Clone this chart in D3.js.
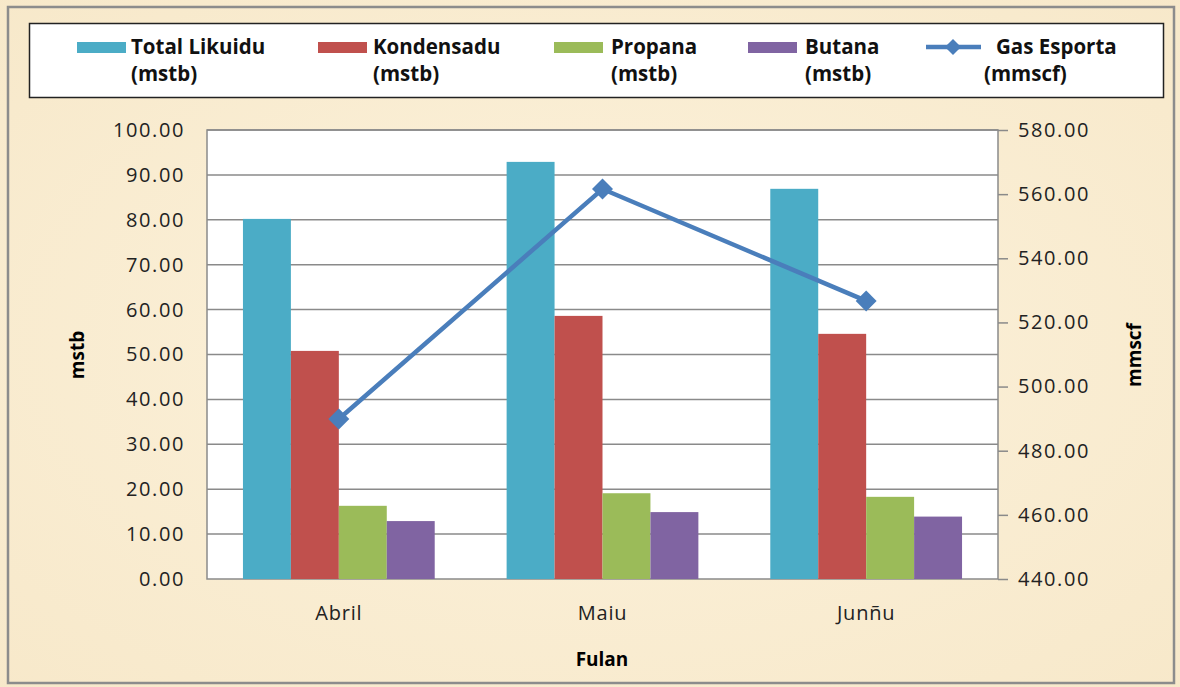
<!DOCTYPE html>
<html>
<head>
<meta charset="utf-8">
<script src="https://cdn.jsdelivr.net/npm/d3@7"></script>
<style>
  body { margin: 0; background: #f8ebd0; }
  svg { display: block; }
</style>
</head>
<body>
<svg id="canvas" width="1180" height="687"></svg>
<script>
'use strict';

// categories and series
var months = ['Abril', 'Maiu', 'Junñu'];
var seriesNames = ['Total Likuidu', 'Kondensadu', 'Propana', 'Butana'];
var totalLikuidu = [80.2, 92.9, 86.9];
var kondensadu = [50.8, 58.6, 54.6];
var propana = [16.3, 19.1, 18.3];
var butana = [12.9, 14.9, 13.9];
var gasEsporta = [489.9, 561.6, 526.7];
var leftTicks = [0, 10, 20, 30, 40, 50, 60, 70, 80, 90, 100];
var rightTicks = [440, 460, 480, 500, 520, 540, 560, 580];

var colors = ['#4bacc6', '#c0504d', '#9bbb59', '#8064a2'];
var lineColor = '#4a7ebb';

var width = 1180, height = 687;
var plot = {left: 207, right: 998, top: 130, bottom: 579};
var tickFont = 'Open Sans, sans-serif';
var legendFont = 'Open Sans, sans-serif';

var svg = d3.select('svg#canvas');

/* parchment-ish background */
var defs = svg.append('defs');
var grad = defs.append('radialGradient').attr('id', 'paper')
  .attr('cx', '50%').attr('cy', '50%').attr('r', '75%');
grad.append('stop').attr('offset', '0%').attr('stop-color', '#fcf2dc');
grad.append('stop').attr('offset', '100%').attr('stop-color', '#f7e8c9');
svg.append('rect').attr('width', width).attr('height', height).attr('fill', 'url(#paper)');
svg.append('rect').attr('x', 8).attr('y', 7).attr('width', 1166).attr('height', 676)
  .attr('fill', 'none').attr('stroke', '#8c8c8c').attr('stroke-width', 2.5);

/* scales */
var x0 = d3.scaleBand().domain(months).range([plot.left, plot.right]).paddingInner(0).paddingOuter(0);
var x1 = d3.scaleBand().domain(seriesNames).range([0, x0.bandwidth()]).paddingInner(0).paddingOuter(0.75);
var yL = d3.scaleLinear().domain([0, 100]).range([plot.bottom, plot.top]);
var yR = d3.scaleLinear().domain([440, 580]).range([plot.bottom, plot.top]);

/* plot area */
svg.append('rect').attr('x', plot.left).attr('y', plot.top)
  .attr('width', plot.right - plot.left).attr('height', plot.bottom - plot.top)
  .attr('fill', '#ffffff');

svg.append('g').selectAll('line').data(leftTicks.slice(1)).join('line')
  .attr('x1', plot.left).attr('x2', plot.right)
  .attr('y1', function(d){ return yL(d); }).attr('y2', function(d){ return yL(d); })
  .attr('stroke', '#8a8a8a').attr('stroke-width', 1.5);

svg.append('rect').attr('x', plot.left).attr('y', plot.top)
  .attr('width', plot.right - plot.left).attr('height', plot.bottom - plot.top)
  .attr('fill', 'none').attr('stroke', '#8a8a8a').attr('stroke-width', 1.5);

/* bars */
var table = months.map(function(m, i){
  return {month: m, values: [totalLikuidu[i], kondensadu[i], propana[i], butana[i]]};
});
var groups = svg.append('g').selectAll('g').data(table).join('g')
  .attr('transform', function(d){ return 'translate(' + x0(d.month) + ',0)'; });
groups.selectAll('rect')
  .data(function(d){ return d.values.map(function(v, j){ return {name: seriesNames[j], value: v, j: j}; }); })
  .join('rect')
  .attr('x', function(d){ return x1(d.name); })
  .attr('width', x1.bandwidth())
  .attr('y', function(d){ return yL(d.value); })
  .attr('height', function(d){ return yL(0) - yL(d.value); })
  .attr('fill', function(d){ return colors[d.j]; });

/* line series on the right axis */
var cx = function(i){ return x0(months[i]) + x0.bandwidth() / 2; };
svg.append('path')
  .datum(gasEsporta)
  .attr('fill', 'none').attr('stroke', lineColor).attr('stroke-width', 4.5)
  .attr('d', d3.line().x(function(d, i){ return cx(i); }).y(function(d){ return yR(d); }));
svg.append('g').selectAll('path').data(gasEsporta).join('path')
  .attr('d', d3.symbol(d3.symbolSquare, 220))
  .attr('transform', function(d, i){ return 'translate(' + cx(i) + ',' + yR(d) + ') rotate(45)'; })
  .attr('fill', lineColor);

/* axes */
var fmt = d3.format('.2f');
function styleTicks(g, ls){
  g.selectAll('text').attr('font-family', tickFont).attr('font-size', 20)
    .attr('letter-spacing', ls).attr('fill', '#222');
}
var leftAxis = svg.append('g').attr('transform', 'translate(' + plot.left + ',0)')
  .call(d3.axisLeft(yL).tickValues(leftTicks).tickFormat(fmt).tickSize(0).tickPadding(22));
leftAxis.select('.domain').remove();
styleTicks(leftAxis, 1.6);

var rightAxis = svg.append('g').attr('transform', 'translate(' + plot.right + ',0)')
  .call(d3.axisRight(yR).tickValues(rightTicks).tickFormat(fmt).tickSize(10).tickPadding(10));
rightAxis.select('.domain').remove();
rightAxis.selectAll('line').attr('stroke', '#8a8a8a').attr('stroke-width', 1.5);
styleTicks(rightAxis, 1.6);

var bottomAxis = svg.append('g').attr('transform', 'translate(0,' + plot.bottom + ')')
  .call(d3.axisBottom(x0).tickSize(0).tickPadding(27));
bottomAxis.select('.domain').remove();
styleTicks(bottomAxis, 0.8);

/* axis titles */
svg.append('text').text('mstb')
  .attr('transform', 'translate(84,355) rotate(-90)').attr('text-anchor', 'middle')
  .attr('font-family', tickFont).attr('font-size', 19).attr('font-weight', 'bold');
svg.append('text').text('mmscf')
  .attr('transform', 'translate(1141,355) rotate(-90)').attr('text-anchor', 'middle')
  .attr('font-family', tickFont).attr('font-size', 19).attr('font-weight', 'bold');
svg.append('text').text('Fulan')
  .attr('x', 602).attr('y', 666).attr('text-anchor', 'middle')
  .attr('font-family', tickFont).attr('font-size', 19).attr('font-weight', 'bold');

/* legend */
var legend = svg.append('g');
legend.append('rect').attr('x', 29.5).attr('y', 23.5).attr('width', 1134).attr('height', 74)
  .attr('fill', '#ffffff').attr('stroke', '#222').attr('stroke-width', 1.5);

var legendItems = [
  {label: 'Total Likuidu', unit: '(mstb)', sx: 77, tx: 131, color: colors[0]},
  {label: 'Kondensadu', unit: '(mstb)', sx: 318, tx: 373, color: colors[1]},
  {label: 'Propana', unit: '(mstb)', sx: 554, tx: 611, color: colors[2]},
  {label: 'Butana', unit: '(mstb)', sx: 748, tx: 805, color: colors[3]}
];
function legendText(s, x, y){
  legend.append('text').text(s).attr('x', x).attr('y', y)
    .attr('font-family', legendFont).attr('font-size', 20.5).attr('font-weight', 'bold').attr('fill', '#111');
}
legendItems.forEach(function(it){
  legend.append('rect').attr('x', it.sx).attr('y', 42).attr('width', 49).attr('height', 11).attr('fill', it.color);
  legendText(it.label, it.tx, 54);
  legendText(it.unit, it.tx, 81);
});
legend.append('line').attr('x1', 926).attr('x2', 981).attr('y1', 47).attr('y2', 47)
  .attr('stroke', lineColor).attr('stroke-width', 4.5);
legend.append('path').attr('d', d3.symbol(d3.symbolSquare, 130))
  .attr('transform', 'translate(953,47) rotate(45)').attr('fill', lineColor);
legendText('Gas Esporta', 996, 54);
legendText('(mmscf)', 984, 81);
</script>
</body>
</html>
